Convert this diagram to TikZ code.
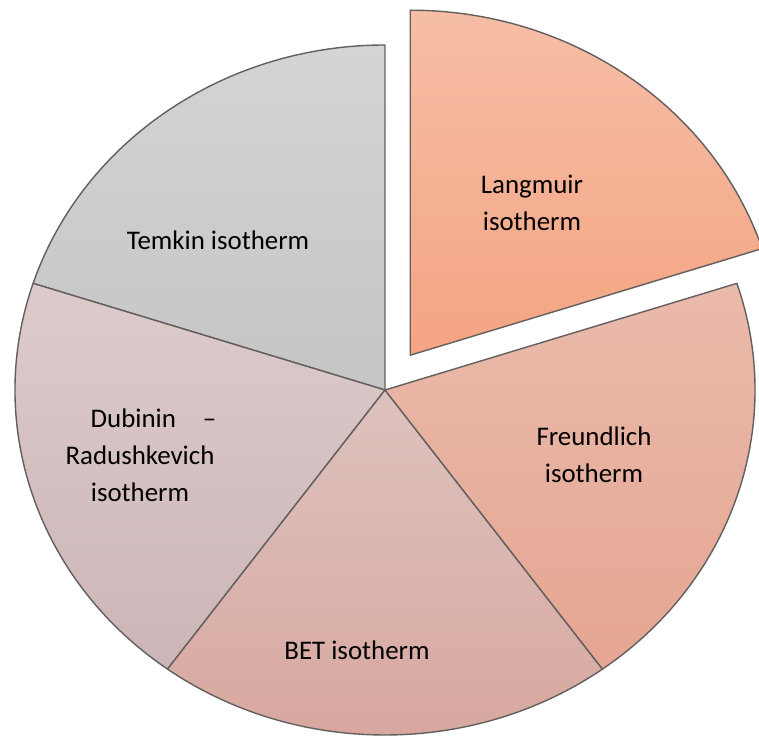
\documentclass[tikz,border=0pt]{standalone}
\usepackage{fontspec}
\setmainfont{Carlito}
\usetikzlibrary{positioning}
\definecolor{sliceEdge}{RGB}{100,95,95}
\definecolor{langTop}{RGB}{246,190,166}
\definecolor{langBot}{RGB}{244,164,130}
\definecolor{freuTop}{RGB}{234,186,170}
\definecolor{freuBot}{RGB}{229,166,146}
\definecolor{betTop}{RGB}{222,194,190}
\definecolor{betBot}{RGB}{215,166,157}
\definecolor{dubTop}{RGB}{221,203,203}
\definecolor{dubBot}{RGB}{204,181,183}
\definecolor{temTop}{RGB}{212,212,212}
\definecolor{temBot}{RGB}{197,197,197}
\newcommand{\rX}{7.4}
\newcommand{\rY}{6.9}

\begin{document}
\begin{tikzpicture}[
  slice/.style={draw=sliceEdge,line width=0.8pt,line join=round},
  lbl/.style={font=\fontsize{15.3}{21}\selectfont,align=center,text=black}]
\useasboundingbox (-7.7,-6.96) rectangle (7.48,7.8);
% ---------------- the four slices in place ----------------
\draw[slice,top color=temTop,bottom color=temBot] (0,0) -- (90:\rX cm and \rY cm)
   arc[start angle=90,end angle=162,x radius=\rX,y radius=\rY] -- cycle;
\draw[slice,top color=dubTop,bottom color=dubBot] (0,0) -- (162:\rX cm and \rY cm)
   arc[start angle=162,end angle=234,x radius=\rX,y radius=\rY] -- cycle;
\draw[slice,top color=betTop,bottom color=betBot] (0,0) -- (234:\rX cm and \rY cm)
   arc[start angle=234,end angle=306,x radius=\rX,y radius=\rY] -- cycle;
\draw[slice,top color=freuTop,bottom color=freuBot] (0,0) -- (306:\rX cm and \rY cm)
   arc[start angle=306,end angle=378,x radius=\rX,y radius=\rY] -- cycle;
% ---------------- pulled-out slice ----------------
\begin{scope}[shift={(54:0.86)}]
  \draw[slice,top color=langTop,bottom color=langBot] (0,0) -- (18:\rX cm and \rY cm)
     arc[start angle=18,end angle=90,x radius=\rX,y radius=\rY] -- cycle;
\end{scope}
% ---------------- labels ----------------
\node[lbl] (langmuir) at (2.94,3.74) {Langmuir\\isotherm};
\node[lbl] (temkin) at (-3.34,3.0) {Temkin isotherm};
\node[lbl] (dubinin) at (-4.9,-1.3)
   {\hspace*{1em}Dubinin\hspace{1em}–\\Radushkevich\hspace*{0.6em}\\isotherm};
\node[lbl] (freundlich) at (4.18,-1.3) {Freundlich\\isotherm};
\node[lbl] (bet) at (-0.56,-5.2) {BET isotherm};
\end{tikzpicture}
\end{document}
